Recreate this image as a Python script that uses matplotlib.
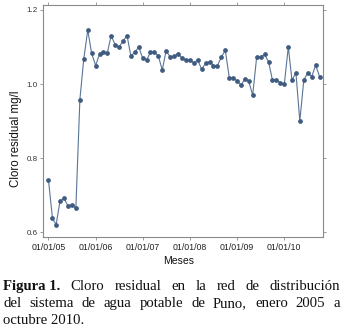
import matplotlib
matplotlib.use("Agg")
import matplotlib.pyplot as plt
import matplotlib.dates as mdates
import numpy as np
import datetime as dt

start_year = 2005
n_months = 70
cloro = [0.740, 0.637, 0.620, 0.685, 0.691, 0.671, 0.674, 0.665, 0.958, 1.067,
         1.146, 1.083, 1.050, 1.081, 1.087, 1.083, 1.131, 1.106, 1.100, 1.116,
         1.131, 1.076, 1.086, 1.100, 1.069, 1.065, 1.086, 1.086, 1.076, 1.038,
         1.090, 1.073, 1.075, 1.082, 1.070, 1.065, 1.065, 1.057, 1.065, 1.040,
         1.056, 1.060, 1.050, 1.050, 1.073, 1.091, 1.017, 1.017, 1.008, 0.997,
         1.014, 1.007, 0.970, 1.073, 1.073, 1.080, 1.060, 1.011, 1.011, 1.004,
         1.000, 1.100, 1.011, 1.030, 0.900, 1.011, 1.030, 1.020, 1.051, 1.020]
yticks = [0.6, 0.8, 1.0, 1.2]
xtick_years = [2005, 2006, 2007, 2008, 2009, 2010]
caption_lines = [
    [("Figura 1.", "bold"), ("Cloro", "normal"), ("residual", "normal"), ("en", "normal"),
     ("la", "normal"), ("red", "normal"), ("de", "normal"), ("distribución", "normal")],
    [("del", "normal"), ("sistema", "normal"), ("de", "normal"), ("agua", "normal"),
     ("potable", "normal"), ("de", "normal"), ("Puno,", "normal"), ("enero", "normal"),
     ("2005", "normal"), ("a", "normal")],
    [("octubre 2010.", "normal")],
]

dates = [dt.date(start_year + (i // 12), i % 12 + 1, 1) for i in range(n_months)]

fig = plt.figure(figsize=(3.43, 3.28), dpi=100)
ax = fig.add_axes([0.1263, 0.2765, 0.8163, 0.7083])
ax.plot(dates, cloro, color="#5a7597", lw=0.8, marker="o", ms=2.4,
        mfc="#3f5b7f", mec="#3f5b7f")
ax.set_ylim(0.586, 1.2135)
ax.set_xlim(dt.date(2004, 11, 22), dt.date(2010, 10, 30))
ax.set_yticks(yticks)
ax.set_yticklabels([f"{v:.1f}" for v in yticks])
ax.set_xticks([dt.date(y, 1, 1) for y in xtick_years])
ax.xaxis.set_major_formatter(mdates.DateFormatter("%d/%m/%y"))
for s in ax.spines.values():
    s.set_color("#8a8a8a")
    s.set_linewidth(0.8)
ax.tick_params(axis="both", direction="out", length=2, width=0.6, color="#8a8a8a",
               top=True, right=True, labeltop=False, labelright=False, pad=2)
ax.tick_params(axis="x", labelsize=6.3, labelcolor="#222222")
ax.tick_params(axis="y", labelsize=5.8, labelcolor="#333333")
for lab in ax.get_xticklabels() + ax.get_yticklabels():
    lab.set_fontfamily("Liberation Sans")

fig.text(0.047, 0.576, "Cloro residual mg/l", rotation=90, ha="center", va="center",
         fontsize=8.3, family="Liberation Sans", color="#111111")
fig.text(0.522, 0.204, "Meses", ha="center", va="center",
         fontsize=7.5, family="Liberation Sans", color="#111111")

renderer = fig.canvas.get_renderer()
W = 343.0
H = 328.0
left_px, right_px = 3.0, 340.0
baselines = [290.0, 307.0, 324.0]
for li, words in enumerate(caption_lines):
    texts = []
    widths = []
    for w, weight in words:
        t = fig.text(0, 0, w, fontsize=10.6, family="Liberation Serif",
                     weight=weight, va="baseline", ha="left", color="#111111")
        bb = t.get_window_extent(renderer)
        texts.append(t)
        widths.append(bb.width)
    y = 1 - baselines[li] / H
    if li < len(caption_lines) - 1 and len(words) > 1:
        gap = (right_px - left_px - sum(widths)) / (len(words) - 1)
    else:
        gap = 3.0
    x = left_px
    for t, wd in zip(texts, widths):
        t.set_position((x / W, y))
        x += wd + gap

fig.savefig("out.png", dpi=100)
